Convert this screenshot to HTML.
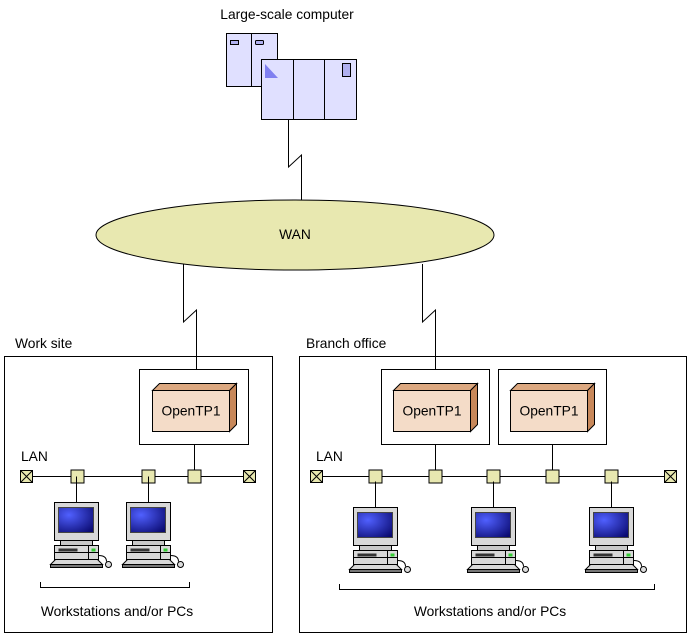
<!DOCTYPE html>
<html><head><meta charset="utf-8"><style>
html,body{margin:0;padding:0;background:#fff;}
svg{display:block;}
text{font-family:"Liberation Sans",sans-serif;font-size:13.8px;fill:#000;}
</style></head><body>
<svg width="688" height="637" viewBox="0 0 688 637" xmlns="http://www.w3.org/2000/svg">
<defs>
<radialGradient id="scr" cx="0.3" cy="0.3" r="0.9">
<stop offset="0" stop-color="#5060ff"/><stop offset="1" stop-color="#0a0a70"/>
</radialGradient>
<g id="pc">
<line x1="0" y1="-26" x2="0" y2="0" stroke="#000"/>
<rect x="-22" y="0" width="44" height="38" fill="#d8d8d8" stroke="#000"/>
<rect x="-18" y="5" width="35" height="25" fill="url(#scr)" stroke="#444"/>
<rect x="-16" y="38" width="32" height="5" fill="#c8c8c8" stroke="#000"/>
<rect x="-22" y="43" width="44" height="14" fill="#d8d8d8" stroke="#000"/>
<line x1="-22" y1="50" x2="22" y2="50" stroke="#000"/>
<line x1="12" y1="43" x2="12" y2="57" stroke="#000"/>
<rect x="-18" y="46" width="19" height="3" fill="#333"/>
<rect x="15" y="46" width="4" height="3" fill="#3c3"/>
<path d="M-21 57 L21 57 L26 62 L-26 62 Z" fill="#d8d8d8" stroke="#000"/>
<rect x="-26" y="62" width="52" height="3" fill="#777" stroke="#000"/>
<path d="M22 53 Q30 53 30 59" fill="none" stroke="#000"/>
<circle cx="32" cy="62" r="3" fill="#ddd" stroke="#000"/>
</g>
<g id="nd"><rect x="-6.5" y="-6.5" width="13" height="13" fill="#e8e8b0" stroke="#000"/></g>
<g id="nx"><rect x="-6" y="-6" width="12" height="12" fill="#e8e8b0" stroke="#000"/><path d="M-6 -6 L6 6 M6 -6 L-6 6" stroke="#000"/></g>
<g id="tp">
<path d="M0 7 L7 0 L84 0 L77 7 Z" fill="#dca880" stroke="#000"/>
<path d="M77 7 L84 0 L84 41 L77 48 Z" fill="#c8885a" stroke="#000"/>
<rect x="0" y="7" width="77" height="41" fill="#f4dcc8" stroke="#000"/>
<text x="38.5" y="32" text-anchor="middle">OpenTP1</text>
</g>
</defs>

<text x="287" y="19" text-anchor="middle">Large-scale computer</text>
<rect x="226.5" y="33.5" width="51" height="53" fill="#e0e0ff" stroke="#000"/>
<line x1="251.5" y1="33" x2="251.5" y2="86" stroke="#000"/>
<rect x="230.5" y="40.5" width="8" height="4" fill="#b0b0f0" stroke="#000"/>
<rect x="255.5" y="40.5" width="8" height="4" rx="1" fill="#b0b0f0" stroke="#000"/>
<rect x="261.5" y="59.5" width="95" height="60" fill="#e0e0ff" stroke="#000"/>
<line x1="293.5" y1="59" x2="293.5" y2="119" stroke="#000"/>
<line x1="324.5" y1="59" x2="324.5" y2="119" stroke="#000"/>
<path d="M265 64 L265 78 L278 78 Z" fill="#8080f0"/>
<rect x="342.5" y="63.5" width="8" height="13" fill="#b0b0f0" stroke="#000"/>

<path d="M288.5 119 L288.5 167 L301.5 155 L301.5 200" fill="none" stroke="#000"/>
<ellipse cx="295" cy="235" rx="199" ry="35" fill="#e8e8b0" stroke="#000"/>
<text x="295" y="239" text-anchor="middle">WAN</text>
<path d="M183.5 264 L183.5 322 L196.5 310 L196.5 369" fill="none" stroke="#000"/>
<path d="M422.5 264 L422.5 322 L435.5 310 L435.5 369" fill="none" stroke="#000"/>

<text x="15" y="348">Work site</text>
<text x="306" y="348">Branch office</text>
<rect x="4.5" y="356.5" width="268" height="276" fill="none" stroke="#000"/>
<rect x="299.5" y="356.5" width="387" height="276" fill="none" stroke="#000"/>

<rect x="139.5" y="369.5" width="109" height="75" fill="#fff" stroke="#000"/>
<use href="#tp" x="152.5" y="383.5"/>
<rect x="381.5" y="369.5" width="108" height="75" fill="#fff" stroke="#000"/>
<use href="#tp" x="393.5" y="383.5"/>
<rect x="498.5" y="369.5" width="108" height="75" fill="#fff" stroke="#000"/>
<use href="#tp" x="510.5" y="383.5"/>

<text x="21" y="461">LAN</text>
<line x1="26" y1="476.5" x2="249" y2="476.5" stroke="#000"/>
<line x1="194.5" y1="444" x2="194.5" y2="476" stroke="#000"/>
<use href="#nx" x="26.5" y="476.5"/>
<use href="#nd" x="77.5" y="476.5"/>
<use href="#nd" x="148.5" y="476.5"/>
<use href="#nd" x="194.5" y="476.5"/>
<use href="#nx" x="249.5" y="476.5"/>
<use href="#pc" x="76.5" y="502.5"/>
<use href="#pc" x="148.5" y="502.5"/>
<path d="M40.5 582 L40.5 587.5 L189.5 587.5 L189.5 582" fill="none" stroke="#000"/>
<text x="117" y="616" text-anchor="middle">Workstations and/or PCs</text>

<text x="316" y="461">LAN</text>
<line x1="316" y1="476.5" x2="670" y2="476.5" stroke="#000"/>
<line x1="435.5" y1="444" x2="435.5" y2="476" stroke="#000"/>
<line x1="552.5" y1="444" x2="552.5" y2="476" stroke="#000"/>
<use href="#nx" x="316.5" y="476.5"/>
<use href="#nd" x="375.5" y="476.5"/>
<use href="#nd" x="435.5" y="476.5"/>
<use href="#nd" x="493.5" y="476.5"/>
<use href="#nd" x="552.5" y="476.5"/>
<use href="#nd" x="611.5" y="476.5"/>
<use href="#nx" x="670.5" y="476.5"/>
<use href="#pc" x="375.5" y="507.5"/>
<use href="#pc" x="493.5" y="507.5"/>
<use href="#pc" x="611.5" y="507.5"/>
<path d="M339.5 584 L339.5 589.5 L654.5 589.5 L654.5 584" fill="none" stroke="#000"/>
<text x="490" y="616" text-anchor="middle">Workstations and/or PCs</text>
</svg>
</body></html>
